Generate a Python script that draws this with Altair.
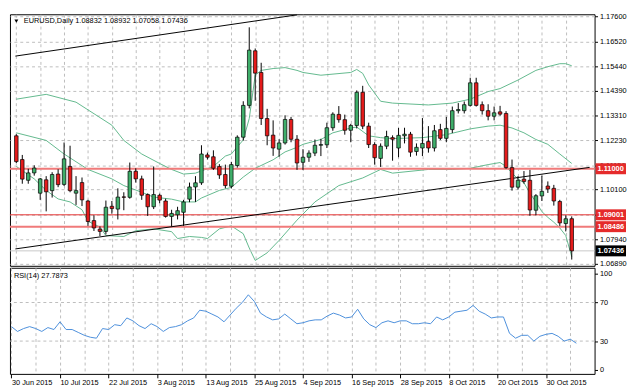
import altair as alt
import pandas as pd

# ---------------- data ----------------
date_labels = ["30 Jun 2015", "10 Jul 2015", "22 Jul 2015", "3 Aug 2015", "13 Aug 2015",
               "25 Aug 2015", "4 Sep 2015", "16 Sep 2015", "28 Sep 2015", "8 Oct 2015",
               "20 Oct 2015", "30 Oct 2015"]

opens = [1.1243, 1.1140, 1.1050, 1.1082, 1.0994, 1.1052, 1.1005, 1.1077, 1.1032, 1.1110,
         1.0994, 1.1040, 1.0960, 1.0875, 1.0838, 1.0828, 1.0937, 1.0925, 1.0978, 1.0976,
         1.1089, 1.1056, 1.0988, 1.0935, 1.0985, 1.0960, 1.0893, 1.0900, 1.0911, 1.0968,
         1.1021, 1.1039, 1.1160, 1.1152, 1.1110, 1.1075, 1.1024, 1.1114, 1.1237, 1.1375,
         1.1612, 1.1518, 1.1318, 1.1246, 1.1185, 1.1212, 1.1314, 1.1228, 1.1128, 1.1150,
         1.1168, 1.1202, 1.1204, 1.1278, 1.1336, 1.1313, 1.1267, 1.1288, 1.1432, 1.1285,
         1.1205, 1.1145, 1.1198, 1.1235, 1.1190, 1.1243, 1.1250, 1.1175, 1.1190, 1.1218,
         1.1190, 1.1270, 1.1232, 1.1270, 1.1352, 1.1352, 1.1375, 1.1473, 1.1378, 1.1352,
         1.1328, 1.1347, 1.1340, 1.1105, 1.1020, 1.1055, 1.1050, 1.0920, 1.0982, 1.1025,
         1.1015, 1.0958, 1.0862, 1.08832]
highs = [1.1250, 1.1160, 1.1100, 1.1115, 1.1060, 1.1068, 1.1085, 1.1098, 1.1214, 1.1200,
         1.1068, 1.1062, 1.0965, 1.0898, 1.0850, 1.0962, 1.0960, 1.1015, 1.0998, 1.1127,
         1.1102, 1.1070, 1.0993, 1.1110, 1.0992, 1.0970, 1.0922, 1.0935, 1.0965, 1.1040,
         1.1068, 1.1202, 1.1170, 1.1180, 1.1120, 1.1118, 1.1130, 1.1245, 1.1393, 1.1714,
         1.1622, 1.1560, 1.1360, 1.1310, 1.1228, 1.1332, 1.1325, 1.1246, 1.1185, 1.1180,
         1.1227, 1.1230, 1.1300, 1.1345, 1.1372, 1.1335, 1.1295, 1.1440, 1.1460, 1.1300,
         1.1215, 1.1210, 1.1265, 1.1245, 1.1277, 1.1278, 1.1260, 1.1210, 1.1320, 1.1285,
         1.1290, 1.1295, 1.1325, 1.1370, 1.1385, 1.1392, 1.1495, 1.1495, 1.1392, 1.1380,
         1.1370, 1.1373, 1.1350, 1.1140, 1.1068, 1.1090, 1.1095, 1.0990, 1.1070, 1.1045,
         1.1030, 1.0965, 1.0898, 1.08932]
lows = [1.1125, 1.1035, 1.1035, 1.1070, 1.0965, 1.0915, 1.0975, 1.1020, 1.1025, 1.0998,
        1.0943, 1.0938, 1.0852, 1.0830, 1.0808, 1.0815, 1.0905, 1.0880, 1.0920, 1.0970,
        1.1040, 1.0965, 1.0895, 1.0925, 1.0950, 1.0888, 1.0850, 1.0880, 1.0852, 1.0955,
        1.0956, 1.1030, 1.1140, 1.1095, 1.1056, 1.1015, 1.1015, 1.1105, 1.1222, 1.1362,
        1.1395, 1.1290, 1.1202, 1.1156, 1.1152, 1.1205, 1.1215, 1.1095, 1.1095, 1.1130,
        1.1155, 1.1155, 1.1190, 1.1265, 1.1300, 1.1248, 1.1215, 1.1275, 1.1272, 1.1190,
        1.1118, 1.1108, 1.1185, 1.1135, 1.1150, 1.1210, 1.1152, 1.1157, 1.1155, 1.1170,
        1.1175, 1.1225, 1.1215, 1.1255, 1.1340, 1.1340, 1.1370, 1.1370, 1.1335, 1.1310,
        1.1310, 1.1330, 1.1100, 1.1005, 1.1010, 1.1035, 1.0896, 1.0898, 1.0960, 1.0995,
        1.0940, 1.0852, 1.0828, 1.07058]
closes = [1.1131, 1.1055, 1.1082, 1.1103, 1.1056, 1.1000, 1.1075, 1.1031, 1.1143, 1.1005,
          1.1005, 1.0965, 1.0871, 1.0843, 1.0828, 1.0933, 1.0927, 1.0977, 1.0976, 1.1089,
          1.1056, 1.0985, 1.0935, 1.0988, 1.0964, 1.0893, 1.0906, 1.0918, 1.0956, 1.1021,
          1.1039, 1.1164, 1.1150, 1.1102, 1.1073, 1.1027, 1.1118, 1.1237, 1.1375, 1.1615,
          1.1515, 1.1318, 1.1243, 1.1190, 1.1212, 1.1314, 1.1228, 1.1125, 1.1150, 1.1168,
          1.1202, 1.1205, 1.1278, 1.1337, 1.1313, 1.1267, 1.1288, 1.1432, 1.1285, 1.1205,
          1.1148, 1.1198, 1.1240, 1.1228, 1.1245, 1.1250, 1.1172, 1.1193, 1.1210, 1.1190,
          1.1265, 1.1232, 1.1275, 1.1352, 1.1357, 1.1378, 1.1473, 1.1375, 1.1352, 1.1328,
          1.1343, 1.1337, 1.1105, 1.1020, 1.1050, 1.1045, 1.0921, 1.0983, 1.1002, 1.1012,
          1.0960, 1.0865, 1.0883, 1.07436]

rsi_values = [45, 40, 43, 45, 43, 40, 44, 42, 50, 42, 42, 39, 36, 34, 33, 43, 42, 47, 46, 54,
              51, 46, 43, 48, 45, 40, 44, 45, 47, 51, 54, 62, 61, 58, 55, 50, 57, 64, 70, 78,
              71, 59, 55, 52, 53, 58, 53, 48, 49, 51, 52, 52, 56, 59, 57, 54, 55, 63, 53, 47,
              44, 49, 51, 49, 51, 51, 48, 48, 49, 48, 55, 52, 55, 60, 61, 62, 67, 61, 58, 54,
              55, 55, 38, 33, 36, 36, 30, 35, 37, 38, 35, 30, 32, 27.7873]

bb_upper_bars = [0, 5, 10, 16, 18, 21, 24, 26, 28, 30, 33, 35, 36, 37, 38, 39, 40, 41, 43, 45,
                 47, 48, 51, 56, 57, 58, 59, 61, 63, 69, 73, 76, 79, 81, 84, 87, 89, 91, 92, 93]
bb_upper = [1.1402, 1.1423, 1.1389, 1.1289, 1.1223, 1.1164, 1.1123, 1.1097, 1.1077, 1.1081,
            1.1110, 1.1155, 1.1164, 1.1195, 1.1225, 1.1318, 1.1506, 1.1527, 1.1535, 1.1539,
            1.1527, 1.1518, 1.1506, 1.1518, 1.1531, 1.1514, 1.1464, 1.1393, 1.1385, 1.1377,
            1.1385, 1.1402, 1.1435, 1.1448, 1.1485, 1.1527, 1.1543, 1.1556, 1.1556, 1.1547]
bb_middle_bars = [0, 5, 8, 12, 16, 18, 21, 23, 26, 28, 30, 31, 34, 36, 38, 40, 43, 45, 47, 48,
                  51, 53, 56, 57, 59, 61, 63, 68, 72, 76, 79, 81, 83, 85, 87, 89, 91, 93]
bb_middle = [1.1256, 1.1223, 1.1164, 1.1097, 1.1056, 1.1027, 1.0998, 1.0977, 1.0968, 1.0956,
             1.0956, 1.0973, 1.1006, 1.1019, 1.1064, 1.1102, 1.1139, 1.1173, 1.1193, 1.1206,
             1.1227, 1.1256, 1.1277, 1.1281, 1.1243, 1.1235, 1.1231, 1.1235, 1.1248, 1.1273,
             1.1285, 1.1289, 1.1277, 1.1256, 1.1227, 1.1206, 1.1164, 1.1123]
bb_lower_bars = [0, 3, 5, 7, 9, 11, 12, 14, 15, 18, 20, 23, 26, 27, 29, 31, 32, 34, 36, 38,
                 39, 40, 42, 44, 47, 50, 54, 58, 61, 63, 69, 73, 76, 79, 81, 82, 83, 84, 85, 86,
                 87, 88, 89, 90, 91, 92, 93]
bb_lower = [1.1110, 1.1056, 1.1006, 1.0969, 1.0956, 1.0922, 1.0872, 1.0847, 1.0810, 1.0806,
            1.0831, 1.0839, 1.0827, 1.0797, 1.0806, 1.0802, 1.0797, 1.0839, 1.0852, 1.0818,
            1.0756, 1.0702, 1.0735, 1.0789, 1.0877, 1.0956, 1.1027, 1.1060, 1.1097, 1.1081,
            1.1097, 1.1097, 1.1102, 1.1118, 1.1127, 1.1110, 1.1081, 1.1056, 1.1039, 1.0994,
            1.0956, 1.0914, 1.0889, 1.0868, 1.0843, 1.0810, 1.0718]

trend_upper_bars = [-0.16, 47.0]
trend_upper_prices = [1.1589, 1.1768]
trend_lower_bars = [-0.16, 96.0]
trend_lower_prices = [1.0752, 1.1106]

level_prices = [1.11000, 1.09001, 1.08486]
price_ticks = [1.0689, 1.0794, 1.0902, 1.1010, 1.1115, 1.1223, 1.1331, 1.1439, 1.1544, 1.1652, 1.1760]
hidden_tick = 1.0902   # its label sits fully under the 1.09001 box in the reference
rsi_ticks = [0, 30, 70, 100]
rsi_levels = [30, 70]
symbol = "EURUSD,Daily"

# ---------------- styling ----------------
FONT = "Liberation Sans"
FS = 7.5
GRID = "#bdbdbd"
BULL = "#3fae6a"
BEAR = "#e41b1b"
BB_C = "#62b98d"
RSI_C = "#4b8fdb"
W = 595
H_PRICE = 256
H_RSI = 108
BOX_PATH = "M-1,-0.36L1,-0.36L1,0.36L-1,0.36Z"

n = len(opens)
grid_bars = list(range(0, 96, 4))
x_scale = alt.Scale(domain=[-0.24, 96], nice=False, zero=False)
y_scale = alt.Scale(domain=[1.06787, 1.17705], nice=False, zero=False)
rsi_scale = alt.Scale(domain=[-4, 106], nice=False, zero=False)

x_axis_top = alt.Axis(values=grid_bars, grid=True, gridColor=GRID, gridDash=[3, 3], labels=False,
                      ticks=False, domain=False, title=None)
arr = "[" + ",".join("'" + s + "'" for s in date_labels) + "]"
x_axis_bottom = alt.Axis(values=grid_bars, grid=True, gridColor=GRID, gridDash=[3, 3],
                         labelExpr=f"datum.value % 8 == 0 ? {arr}[datum.value / 8] : ''",
                         labelAlign="left", labelPadding=1, labelFont=FONT, labelFontSize=FS,
                         labelColor="#000", labelOverlap=False, labelFlush=False,
                         tickSize=4, tickColor={"condition": {"test": "datum.value % 8 == 0", "value": "#000"},
                                                "value": "transparent"},
                         domain=False, title=None)
y_axis_price = alt.Axis(orient="right", values=price_ticks, title=None, grid=True,
                        labelExpr=f"datum.value == {hidden_tick} ? '' : format(datum.value, '.5f')",
                        gridColor=GRID, gridDash=[3, 3], domain=False, tickColor="#000", tickSize=3,
                        labelFont=FONT, labelFontSize=FS, labelColor="#000", labelPadding=2)
y_axis_rsi = alt.Axis(orient="right", values=rsi_ticks, title=None, grid=False, domain=False,
                      tickColor="#000", tickSize=3, labelFont=FONT, labelFontSize=FS,
                      labelColor="#000", labelPadding=2)

X_TOP = alt.X("i:Q", scale=x_scale, axis=x_axis_top)
X_BOT = alt.X("i:Q", scale=x_scale, axis=x_axis_bottom)


def YP(field):
    return alt.Y(f"{field}:Q", scale=y_scale, axis=y_axis_price)


# ---------------- tables ----------------
candles = pd.DataFrame({"i": list(range(n)), "open": opens, "high": highs, "low": lows, "close": closes})
bb_df = pd.concat([
    pd.DataFrame({"i": bb_upper_bars, "price": bb_upper, "band": "upper"}),
    pd.DataFrame({"i": bb_middle_bars, "price": bb_middle, "band": "middle"}),
    pd.DataFrame({"i": bb_lower_bars, "price": bb_lower, "band": "lower"}),
])
trend_df = pd.concat([
    pd.DataFrame({"i": trend_upper_bars, "price": trend_upper_prices, "line": "a"}),
    pd.DataFrame({"i": trend_lower_bars, "price": trend_lower_prices, "line": "b"}),
])
levels_df = pd.DataFrame({
    "price": level_prices + [closes[-1]],
    "col": ["#f07a7a", "#e53030", "#f07a7a", "#c8c8c8"],
    "w": [2, 1, 2, 1],
})
boxes_df = pd.DataFrame({
    "price": level_prices + [closes[-1]],
    "label": [f"{p:.5f}" for p in level_prices + [closes[-1]]],
    "fill": ["#e52b2b", "#e52b2b", "#e52b2b", "#000000"],
})
rsi_df = pd.DataFrame({"i": list(range(n)), "rsi": rsi_values})
rsi_lv = pd.DataFrame({"level": rsi_levels})

header = f"{symbol}  {opens[-1]:.5f} {highs[-1]:.5f} {lows[-1]:.5f} {closes[-1]:.5f}"
one_row = pd.DataFrame({"k": [0]})

# ---------------- price panel ----------------
bb_layer = alt.Chart(bb_df).mark_line(color=BB_C, strokeWidth=1).encode(
    x=X_TOP, y=YP("price"), detail="band:N")
levels_layer = alt.Chart(levels_df).mark_rule().encode(
    y=YP("price"), color=alt.Color("col:N", scale=None), strokeWidth=alt.StrokeWidth("w:Q", scale=None))
trend_layer = alt.Chart(trend_df).mark_line(color="#000", strokeWidth=1, clip=True).encode(
    x=X_TOP, y=YP("price"), detail="line:N")
wicks = alt.Chart(candles).mark_rule(color="#000", strokeWidth=1).encode(
    x=X_TOP, y=YP("low"), y2="high:Q")
bodies = alt.Chart(candles).mark_bar(size=3.6, stroke="#000", strokeWidth=0.7).encode(
    x=X_TOP, y=YP("open"), y2="close:Q",
    color=alt.condition("datum.close >= datum.open", alt.value(BULL), alt.value(BEAR)))
boxes = alt.Chart(boxes_df).mark_point(shape=BOX_PATH, size=961, filled=True, opacity=1, strokeWidth=0).encode(
    x=alt.value(W + 16.5), y=YP("price"), color=alt.Color("fill:N", scale=None))
box_text = alt.Chart(boxes_df).mark_text(align="left", baseline="middle", color="#fff", font=FONT,
                                         fontSize=FS, fontWeight="bold").encode(
    x=alt.value(W + 3), y=YP("price"), text="label:N")
head_text = alt.Chart(one_row).mark_text(text=header, align="left", baseline="middle", font=FONT,
                                         fontSize=FS, color="#000").encode(
    x=alt.value(14), y=alt.value(7))
tri = alt.Chart(one_row).mark_point(shape="triangle-down", filled=True, size=16, color="#000", opacity=1).encode(
    x=alt.value(6.5), y=alt.value(7))

price_panel = alt.layer(bb_layer, levels_layer, trend_layer, wicks, bodies, boxes, box_text,
                        head_text, tri).properties(width=W, height=H_PRICE)

# ---------------- RSI panel ----------------
rsi_rules = alt.Chart(rsi_lv).mark_rule(color=GRID, strokeDash=[3, 3], strokeWidth=1).encode(
    y=alt.Y("level:Q", scale=rsi_scale, axis=y_axis_rsi))
rsi_line = alt.Chart(rsi_df).mark_line(color=RSI_C, strokeWidth=1).encode(
    x=X_BOT, y=alt.Y("rsi:Q", scale=rsi_scale, axis=y_axis_rsi))
rsi_text = alt.Chart(one_row).mark_text(text=f"RSI(14) {rsi_values[-1]:.4f}", align="left",
                                        baseline="middle", font=FONT, fontSize=FS, color="#000").encode(
    x=alt.value(4), y=alt.value(8))
rsi_panel = alt.layer(rsi_rules, rsi_line, rsi_text).properties(width=W, height=H_RSI)

chart = alt.vconcat(price_panel, rsi_panel, spacing=2, bounds="flush").properties(
    padding={"left": 0, "top": 0, "right": 0, "bottom": 0}, background="#ffffff"
).configure_view(stroke="#000", strokeWidth=1)

chart.save("out.html", embed_options={"renderer": "svg", "actions": False})
